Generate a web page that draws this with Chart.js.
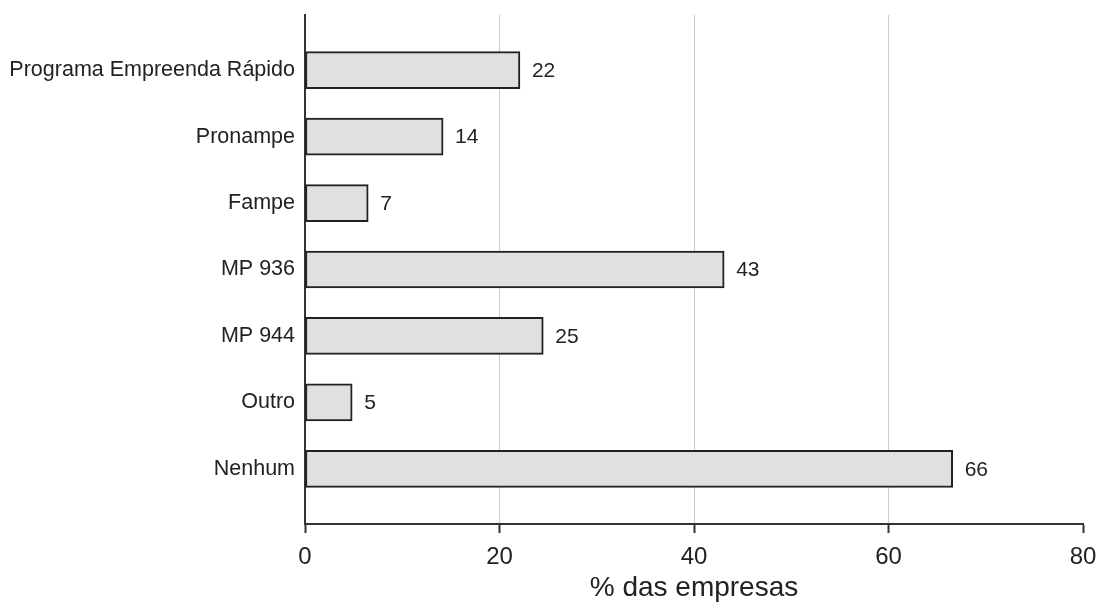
<!DOCTYPE html>
<html>
<head>
<meta charset="utf-8">
<script src="https://cdn.jsdelivr.net/npm/chart.js@4/dist/chart.umd.min.js"></script>
<style>
html,body{margin:0;padding:0;background:#fff;}
#wrap{width:1099px;height:605px;position:relative;}
</style>
</head>
<body>
<div id="wrap"><canvas id="c" width="1099" height="605"></canvas></div>
<script>
const categories = ["Programa Empreenda Rápido", "Pronampe", "Fampe", "MP 936", "MP 944", "Outro", "Nenhum"];
const values = [22.1, 14.2, 6.5, 43.1, 24.5, 4.85, 66.6];
const valueLabels = ["22", "14", "7", "43", "25", "5", "66"];
const xTicks = [0, 20, 40, 60, 80];

const FONT = "'Liberation Sans', Arial, sans-serif";

const labelPlugin = {
  id: 'valueLabels',
  afterDatasetsDraw(chart) {
    const ctx = chart.ctx;
    const meta = chart.getDatasetMeta(0);
    ctx.save();
    ctx.font = "21px " + FONT;
    ctx.fillStyle = "#222";
    ctx.textAlign = "left";
    ctx.textBaseline = "middle";
    meta.data.forEach((bar, i) => {
      ctx.fillText(valueLabels[i], bar.x + 12, bar.y + 1);
    });
    ctx.restore();
  }
};

new Chart(document.getElementById('c'), {
  type: 'bar',
  data: {
    datasets: [{
      data: values.map((v, i) => ({x: v, y: i})),
      backgroundColor: '#e0e0e0',
      borderColor: '#222',
      borderWidth: 2,
      borderSkipped: false,
      barThickness: 37
    }]
  },
  options: {
    indexAxis: 'y',
    responsive: false,
    animation: false,
    layout: {padding: {top: 15, right: 16, left: 0, bottom: 0}},
    plugins: {legend: {display: false}, tooltip: {enabled: false}},
    scales: {
      x: {
        type: 'linear',
        min: 0, max: 80,
        afterBuildTicks: (s) => { s.ticks = xTicks.map(v => ({value: v})); },
        afterFit: (s) => { s.height = 81; s.paddingLeft = 0; s.paddingRight = 0; },
        border: {color: '#333', width: 2},
        grid: {
          color: (c) => (c.tick && (c.tick.value === 0 || c.tick.value === 80)) ? 'rgba(0,0,0,0)' : '#cccccc',
          lineWidth: 1,
          drawTicks: true,
          tickLength: 9,
          tickColor: '#333',
          tickWidth: 2
        },
        ticks: {
          font: {family: FONT, size: 24},
          color: '#222',
          padding: 10,
          maxRotation: 0
        },
        title: {
          display: true,
          text: '% das empresas',
          font: {family: FONT, size: 28},
          color: '#222',
          padding: {top: 0, bottom: 0}
        }
      },
      y: {
        type: 'linear',
        reverse: true,
        offset: false,
        min: -0.83, max: 6.83,
        afterBuildTicks: (s) => { s.ticks = categories.map((_, i) => ({value: i})); },
        afterFit: (s) => { s.width = 305; s.paddingTop = 0; s.paddingBottom = 0; },
        border: {color: '#333', width: 2},
        grid: {display: true, drawOnChartArea: false, drawTicks: false, offset: false},
        ticks: {
          font: {family: FONT, size: 21.5},
          color: '#222',
          padding: 10,
          callback: (v) => categories[Math.round(v)]
        }
      }
    }
  },
  plugins: [labelPlugin]
});
</script>
</body>
</html>
